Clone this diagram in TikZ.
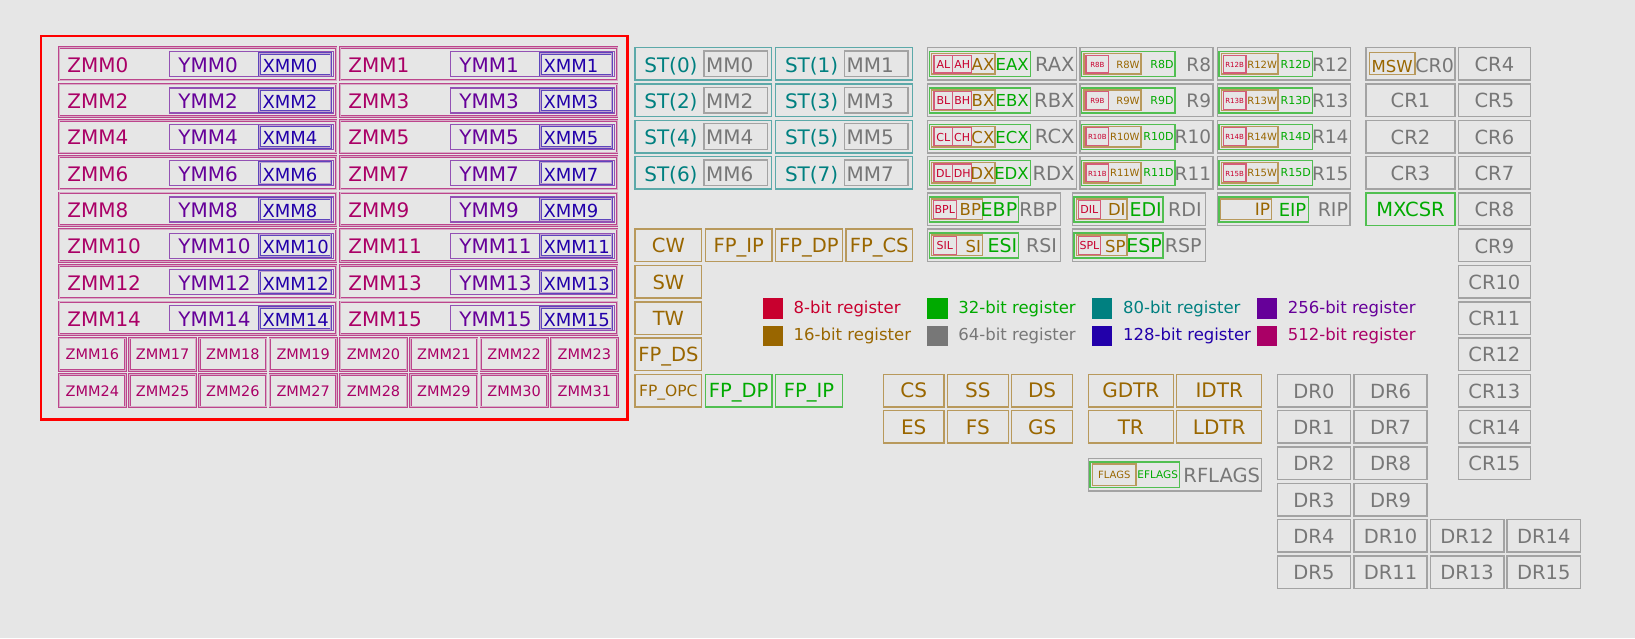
\documentclass[tikz,border=0pt]{standalone}
\usepackage{fontspec}
\setmainfont{DejaVu Sans}

\definecolor{bgc}{HTML}{E6E6E6}
\definecolor{cbyte}{HTML}{C8002E}
\definecolor{cword}{HTML}{996600}
\definecolor{cdword}{HTML}{00AA00}
\definecolor{cqword}{HTML}{777777}
\definecolor{cext}{HTML}{008080}
\definecolor{cxmm}{HTML}{2200AA}
\definecolor{cymm}{HTML}{660099}
\definecolor{czmm}{HTML}{AA0066}
\newcommand{\fsz}[1]{\fontsize{#1}{#1}\selectfont}

\begin{document}
\begin{tikzpicture}[
    x=1pt, y=-1pt,
    reg/.style={draw, line width=1.5pt, inner sep=0pt, outer sep=0pt, anchor=north west},
    wh/.style 2 args={minimum width=#1*1pt, minimum height=#2*1pt},
    zmmbox/.style={reg, draw=czmm!70!bgc, line width=0.8pt, double=czmm!25!bgc, double distance=0.9pt},
    ymmbox/.style={reg, draw=cymm!65!bgc, line width=1.2pt},
    xmmbox/.style={reg, draw=cxmm!70!bgc, line width=0.8pt, double=cymm!30!bgc, double distance=0.9pt},
    r80box/.style={reg, draw=cext!60!bgc},
    r64box/.style={reg, draw=cqword!60!bgc},
    r32box/.style={reg, draw=cdword!65!bgc},
    r16box/.style={reg, draw=cword!60!bgc},
    r8box/.style={reg, draw=cbyte!60!bgc, line width=1.2pt},
    txt/.style={inner sep=0pt, outer sep=0pt},
    txtw/.style={txt, anchor=base west},
    txte/.style={txt, anchor=base east},
    txtc/.style={txt, anchor=base}
]

\path[fill=bgc, use as bounding box] (0,0) rectangle (1635,638);

\node[reg, draw=red, line width=2.6pt, wh={586.5}{383.5}] (simd) at (41,36) {};

\foreach \row in {0,...,7}{
  \foreach \col in {0,1}{
    \pgfmathtruncatemacro\n{2*\row+\col}
    \pgfmathsetmacro\x{59+281*\col}
    \pgfmathsetmacro\y{47.7+36.3*\row}
    \node[zmmbox, wh={277}{32.5}] (zmm\n) at (\x,\y) {};
    \node[ymmbox, wh={164}{25}] (ymm\n) at (\x+110.3,\y+4) {};
    \node[xmmbox, wh={71.5}{21.7}] (xmm\n) at (\x+200.3,\y+5.6) {};
    \node[txtw, text=czmm, font=\fsz{20}] (zmm\n-l) at (\x+8.3,\y+24.6) {ZMM\n};
    \node[txtw, text=cymm, font=\fsz{20}] (ymm\n-l) at (\x+119.3,\y+24.6) {YMM\n};
    \node[txtw, text=cxmm, font=\fsz{18}] (xmm\n-l) at (\x+203.5,\y+24.6) {XMM\n};
  }
}
\foreach \k in {0,...,15}{
  \pgfmathtruncatemacro\n{16+\k}
  \pgfmathsetmacro\x{59+70.3*mod(\k,8)}
  \pgfmathsetmacro\y{47.7+36.3*(8+int(\k/8))}
  \node[zmmbox, wh={66.6}{32.5}] (zmm\n) at (\x,\y) {};
  \node[txtc, text=czmm, font=\fsz{14.5}] (zmm\n-l) at (\x+33.3,\y+21.7) {ZMM\n};
}

\foreach \k in {0,...,7}{
  \pgfmathsetmacro\x{635+140.7*mod(\k,2)}
  \pgfmathsetmacro\y{47.7+36.3*int(\k/2)}
  \node[r80box, wh={136.7}{32.5}] (st\k) at (\x,\y) {};
  \node[r64box, wh={63.3}{25.7}] (mm\k) at (\x+69,\y+3.3) {};
  \node[txtw, text=cext, font=\fsz{20}] (st\k-l) at (\x+9.3,\y+24.6) {ST(\k)};
  \node[txtw, text=cqword, font=\fsz{20}] (mm\k-l) at (\x+71,\y+24.6) {MM\k};
}

\foreach \col/\row/\id/\lab in {0/5/cw/CW, 1/5/fpip/FP\_IP, 2/5/fpdp/FP\_DP, 3/5/fpcs/FP\_CS, 0/6/sw/SW, 0/7/tw/TW, 0/8/fpds/FP\_DS}{
  \pgfmathsetmacro\x{635+70.3*\col}
  \pgfmathsetmacro\y{47.7+36.3*\row}
  \node[r16box, wh={66.7}{32.5}] (\id) at (\x,\y) {};
  \node[txtc, text=cword, font=\fsz{19.5}] (\id-l) at (\x+33.35,\y+23.5) {\lab};
}
\node[r16box, wh={66.7}{32.5}] (fpopc) at (635,374.4) {};
\node[txtc, text=cword, font=\fsz{15.5}] (fpopc-l) at (668.35,396.4) {FP\_OPC};
\node[r32box, wh={66.7}{32.5}] (fpdp32) at (705.3,374.4) {};
\node[txtc, text=cdword, font=\fsz{19.5}] (fpdp32-l) at (738.65,397.9) {FP\_DP};
\node[r32box, wh={66.7}{32.5}] (fpip32) at (775.6,374.4) {};
\node[txtc, text=cdword, font=\fsz{19.5}] (fpip32-l) at (808.95,397.9) {FP\_IP};

\foreach \k/\bits/\cl in {0/8/cbyte, 1/16/cword, 2/32/cdword, 3/64/cqword, 4/80/cext, 5/128/cxmm, 6/256/cymm, 7/512/czmm}{
  \pgfmathsetmacro\x{762.7+164.7*int(\k/2)}
  \pgfmathsetmacro\y{298.3+27.4*mod(\k,2)}
  \node[reg, draw=none, fill=\cl, wh={20.3}{20.3}] (key\bits) at (\x,\y) {};
  \node[txtw, text=\cl, font=\fsz{16.5}] (key\bits-l) at (\x+31,\y+15) {\bits-bit register};
}

\foreach \row/\reg/\Reg in {0/a/A, 1/b/B, 2/c/C, 3/d/D}{
  \pgfmathsetmacro\y{47.7+36.3*\row}
  \node[r64box, wh={149.4}{32.5}] (r\reg x) at (927.3,\y) {};
  \node[r32box, wh={101.4}{25}] (e\reg x) at (929.3,\y+4) {};
  \node[r16box, wh={63.3}{20.5}] (\reg x) at (931.7,\y+6) {};
  \node[r8box, wh={18.7}{17.8}] (\reg l) at (934,\y+7.4) {};
  \node[r8box, wh={19}{17.8}] (\reg h) at (952.7,\y+7.4) {};
  \node[txtc, text=cbyte, font=\fsz{11}] (\reg l-l) at (943.35,\y+20.7) {\Reg L};
  \node[txtc, text=cbyte, font=\fsz{11}] (\reg h-l) at (962.2,\y+20.7) {\Reg H};
  \node[txte, text=cword, font=\fsz{16.5}] (\reg x-l) at (994.3,\y+22.9) {\Reg X};
  \node[txte, text=cdword, font=\fsz{16.5}] (e\reg x-l) at (1028.7,\y+22.9) {E\Reg X};
  \node[txte, text=cqword, font=\fsz{19.5}] (r\reg x-l) at (1074.5,\y+23.6) {R\Reg X};
}
\foreach \row/\x/\reg/\Reg in {4/927.7/bp/BP, 5/927.7/si/SI, 4/1072.3/di/DI, 5/1072.3/sp/SP}{
  \pgfmathsetmacro\y{47.7+36.3*\row}
  \node[r64box, wh={133}{32.5}] (r\reg) at (\x,\y) {};
  \node[r32box, wh={89}{25}] (e\reg) at (\x+1.8,\y+4) {};
  \node[r16box, wh={50.6}{20.5}] (\reg) at (\x+4,\y+6) {};
  \node[r8box, wh={22.6}{17.8}] (\reg l) at (\x+5.8,\y+7.4) {};
  \node[txtc, text=cbyte, font=\fsz{11}] (\reg l-l) at (\x+17.1,\y+20.7) {\Reg L};
  \node[txte, text=cword, font=\fsz{16.5}] (\reg-l) at (\x+53.3,\y+23) {\Reg};
  \node[txte, text=cdword, font=\fsz{19}] (e\reg-l) at (\x+89.5,\y+23.5) {E\Reg};
  \node[txte, text=cqword, font=\fsz{19}] (r\reg-l) at (\x+129.3,\y+23.5) {R\Reg};
}
\node[r64box, wh={132.7}{32.5}] (rip) at (1217.3,192.9) {};
\node[r32box, wh={89.3}{25}] (eip) at (1219,196.9) {};
\node[r16box, wh={51}{20.5}] (ip) at (1220.7,198.9) {};
\node[txte, text=cword, font=\fsz{17}] (ip-l) at (1270,215.9) {IP};
\node[txte, text=cdword, font=\fsz{18}] (eip-l) at (1306.3,216.2) {EIP};
\node[txte, text=cqword, font=\fsz{19}] (rip-l) at (1348,216.4) {RIP};

\foreach \row in {0,...,3}{
  \foreach \col in {0,1}{
    \pgfmathtruncatemacro\n{8+\row+4*\col}
    \pgfmathsetmacro\x{1080+137.3*\col}
    \pgfmathsetmacro\y{47.7+36.3*\row}
    \node[r64box, wh={133}{32.5}] (r\n) at (\x,\y) {};
    \node[r32box, wh={93.3}{25}] (r\n d) at (\x+1.7,\y+4) {};
    \node[r16box, wh={56.8}{20.5}] (r\n w) at (\x+4,\y+6) {};
    \node[r8box, wh={22.7}{17.8}] (r\n b) at (\x+6,\y+7.4) {};
    \node[txtc, text=cbyte, font=\fsz{7}] (r\n b-l) at (\x+17.35,\y+19.5) {R\n B};
    \node[txte, text=cword, font=\fsz{10}] (r\n w-l) at (\x+59.6,\y+20.3) {R\n W};
    \node[txte, text=cdword, font=\fsz{11}] (r\n d-l) at (\x+93.5,\y+20.3) {R\n D};
    \node[txte, text=cqword, font=\fsz{18.5}] (r\n-l) at (\x+131.1,\y+23.5) {R\n};
  }
}

\node[r64box, wh={89}{32.5}] (cr0) at (1366,47.7) {};
\node[r16box, wh={45.7}{21.6}] (msw) at (1369.3,52.7) {};
\node[txtc, text=cword, font=\fsz{16.5}] (msw-l) at (1392.2,72) {MSW};
\node[txte, text=cqword, font=\fsz{19}] (cr0-l) at (1454,72) {CR0};
\foreach \k in {1,2,3}{
  \pgfmathsetmacro\y{47.7+36.3*\k}
  \node[r64box, wh={89}{32.5}] (cr\k) at (1366,\y) {};
  \node[txtc, text=cqword, font=\fsz{19.5}] (cr\k-l) at (1410.5,\y+23.8) {CR\k};
}
\node[r32box, wh={89}{32.5}] (mxcsr) at (1366,192.9) {};
\node[txtc, text=cdword, font=\fsz{19.5}] (mxcsr-l) at (1410.5,216.7) {MXCSR};
\foreach \k in {4,...,15}{
  \pgfmathsetmacro\y{47.7+36.3*(\k-4)}
  \node[r64box, wh={72.2}{32.5}] (cr\k) at (1458.3,\y) {};
  \node[txtc, text=cqword, font=\fsz{19.5}] (cr\k-l) at (1494.4,\y+23.8) {CR\k};
}

\foreach \k in {0,...,15}{
  \pgfmathtruncatemacro\col{ifthenelse(\k<12, int(\k/6), 2+int((\k-12)/2))}
  \pgfmathtruncatemacro\row{ifthenelse(\k<12, 9+mod(\k,6), 13+mod(\k,2))}
  \pgfmathsetmacro\x{1277.3+76.6*\col}
  \pgfmathsetmacro\y{47.7+36.3*\row}
  \node[r64box, wh={73.3}{32.5}] (dr\k) at (\x,\y) {};
  \node[txtc, text=cqword, font=\fsz{19.5}] (dr\k-l) at (\x+36.65,\y+23.8) {DR\k};
}

\foreach \k/\id/\lab in {0/cs/CS, 1/ss/SS, 2/ds/DS, 3/es/ES, 4/fs/FS, 5/gs/GS}{
  \pgfmathsetmacro\x{883.3+64.2*mod(\k,3)}
  \pgfmathsetmacro\y{47.7+36.3*(9+int(\k/3))}
  \node[r16box, wh={60.8}{32.5}] (\id) at (\x,\y) {};
  \node[txtc, text=cword, font=\fsz{20}] (\id-l) at (\x+30.4,\y+23.4) {\lab};
}
\foreach \k/\id/\lab in {0/gdtr/GDTR, 1/idtr/IDTR, 2/tr/TR, 3/ldtr/LDTR}{
  \pgfmathsetmacro\x{1088.3+88.4*mod(\k,2)}
  \pgfmathsetmacro\y{47.7+36.3*(9+int(\k/2))}
  \node[r16box, wh={85}{32.5}] (\id) at (\x,\y) {};
  \node[txtc, text=cword, font=\fsz{20}] (\id-l) at (\x+42.5,\y+23.4) {\lab};
}

\node[r64box, wh={173.4}{32.5}] (rflags) at (1088.3,458.5) {};
\node[r32box, wh={89.3}{25.5}] (eflags) at (1090,462) {};
\node[r16box, wh={43.7}{21.5}] (flags) at (1092.3,464) {};
\node[txtc, text=cword, font=\fsz{10}] (flags-l) at (1114.2,478.5) {FLAGS};
\node[txte, text=cdword, font=\fsz{10.5}] (eflags-l) at (1178,478.5) {EFLAGS};
\node[txte, text=cqword, font=\fsz{19.5}] (rflags-l) at (1260,482.3) {RFLAGS};

\end{tikzpicture}
\end{document}
